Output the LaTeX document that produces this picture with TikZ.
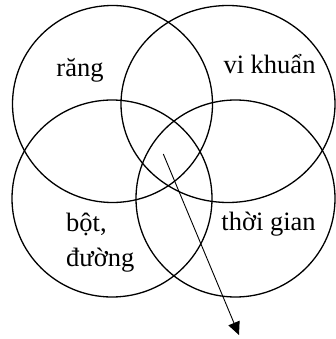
\documentclass[tikz,border=0pt]{standalone}
\usepackage{fontspec}
\setmainfont{Liberation Serif}
\usetikzlibrary{shapes.geometric,arrows.meta}

\begin{document}
\begin{tikzpicture}[x=1pt,y=-1pt,>={Triangle[length=13pt,width=12pt]},
    set/.style={draw,line width=1.3pt,ellipse,inner sep=0pt,minimum width=200pt,minimum height=197pt},
    lbl/.style={font=\fontsize{26.5}{35}\selectfont,inner sep=0pt}]
    \useasboundingbox (0,0) rectangle (336,339);
    \node[set] (rang) at (112.5,104) {};
    \node[set,minimum width=214pt] (vk) at (228,104) {};
    \node[set] (bot) at (112,198.5) {};
    \node[set,minimum width=199pt] (tg) at (235.5,198.5) {};

    \node[lbl,anchor=base] (trang) at (80,76.5) {răng};
    \node[lbl,anchor=base] (tvk) at (269.5,73.5) {vi khuẩn};
    \node[lbl,anchor=base west,align=left] (tbot) at (66,266.5) {bột,\\đường};
    \node[lbl,anchor=base] (ttg) at (268.5,230) {thời gian};

    \coordinate (from) at (163.3,154);
    \coordinate (to) at (239,335);
    \draw[->,line width=0.9pt] (from) -- (to);
  \end{tikzpicture}
\end{document}
